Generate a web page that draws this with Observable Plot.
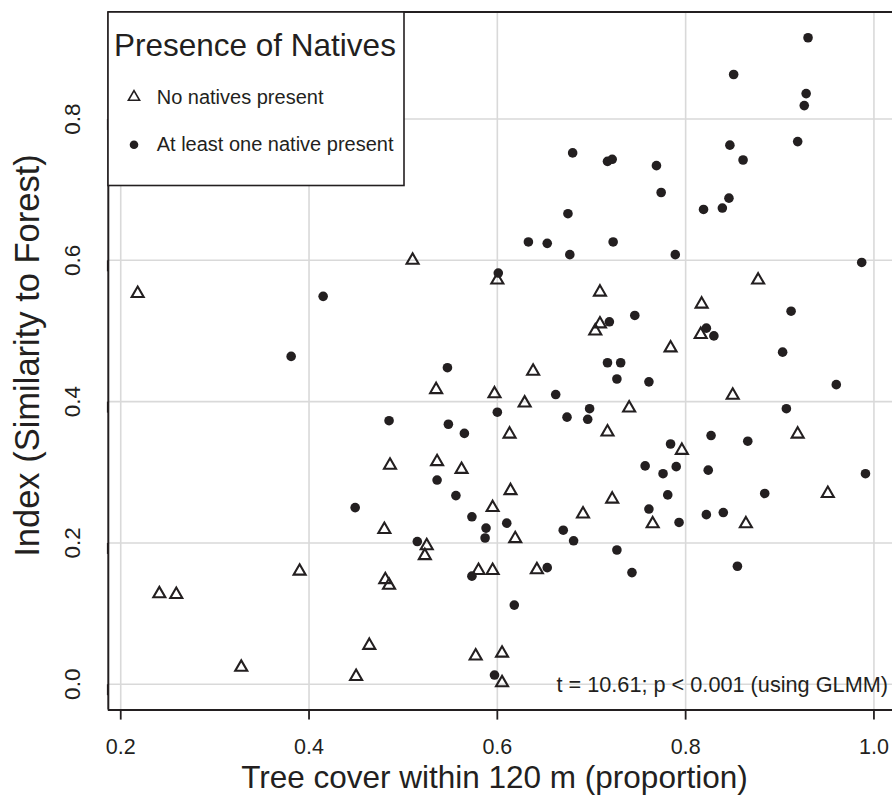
<!DOCTYPE html>
<html>
<head>
<meta charset="utf-8">
<script src="https://cdn.jsdelivr.net/npm/d3@7"></script>
<script src="https://cdn.jsdelivr.net/npm/@observablehq/plot@0.6"></script>
<style>
  html, body { margin: 0; padding: 0; background: #fff; }
  #wrap { position: relative; width: 892px; height: 807px; overflow: hidden; font-family: "Liberation Sans", Arial, Helvetica, sans-serif; }
  #legend { position: absolute; left: 107px; top: 10.5px; }
</style>
</head>
<body>
<div id="wrap"></div>
<script>
// ---- data ----
const xTicks = [0.2, 0.4, 0.6, 0.8, 1.0];
const yTicks = [0.0, 0.2, 0.4, 0.6, 0.8];

// No natives present (open triangles)
const noneX = [0.218, 0.510, 0.600, 0.709, 0.817, 0.877, 0.709, 0.704, 0.816, 0.784,
               0.535, 0.597, 0.638, 0.629, 0.740, 0.850, 0.613, 0.717, 0.796, 0.919,
               0.486, 0.536, 0.562, 0.614, 0.595, 0.722, 0.951, 0.691, 0.765, 0.864,
               0.480, 0.619, 0.525, 0.523, 0.390, 0.580, 0.595, 0.642, 0.481, 0.485,
               0.241, 0.259, 0.464, 0.328, 0.450, 0.577, 0.605, 0.605];
const noneY = [0.553, 0.600, 0.572, 0.555, 0.538, 0.572, 0.510, 0.500, 0.495, 0.476,
               0.417, 0.411, 0.443, 0.398, 0.391, 0.409, 0.354, 0.357, 0.331, 0.354,
               0.310, 0.315, 0.304, 0.274, 0.250, 0.262, 0.270, 0.241, 0.227, 0.227,
               0.219, 0.206, 0.196, 0.182, 0.160, 0.161, 0.161, 0.162, 0.148, 0.140,
               0.128, 0.127, 0.055, 0.024, 0.011, 0.040, 0.044, 0.002];

// At least one native present (filled dots)
const nativeX = [0.415, 0.601, 0.381, 0.930, 0.851, 0.928, 0.926, 0.680, 0.717, 0.722,
                 0.769, 0.847, 0.861, 0.919, 0.774, 0.675, 0.819, 0.839, 0.846, 0.633,
                 0.653, 0.677, 0.723, 0.789, 0.987, 0.912, 0.746, 0.719, 0.822, 0.830,
                 0.903, 0.547, 0.600, 0.485, 0.548, 0.565, 0.536, 0.556, 0.449, 0.573,
                 0.588, 0.587, 0.515, 0.573, 0.597, 0.717, 0.731, 0.727, 0.761, 0.662,
                 0.960, 0.674, 0.698, 0.696, 0.907, 0.784, 0.827, 0.866, 0.757, 0.776,
                 0.790, 0.824, 0.991, 0.610, 0.781, 0.884, 0.761, 0.793, 0.822, 0.840,
                 0.670, 0.681, 0.727, 0.653, 0.743, 0.855, 0.618];
const nativeY = [0.549, 0.582, 0.464, 0.915, 0.863, 0.836, 0.819, 0.752, 0.740, 0.743,
                 0.734, 0.763, 0.742, 0.768, 0.696, 0.666, 0.672, 0.674, 0.688, 0.626,
                 0.624, 0.608, 0.626, 0.608, 0.597, 0.528, 0.522, 0.513, 0.504, 0.493,
                 0.470, 0.448, 0.385, 0.373, 0.368, 0.355, 0.289, 0.267, 0.250, 0.237,
                 0.221, 0.207, 0.202, 0.153, 0.013, 0.455, 0.455, 0.432, 0.428, 0.410,
                 0.424, 0.378, 0.390, 0.375, 0.390, 0.340, 0.352, 0.344, 0.309, 0.298,
                 0.308, 0.303, 0.298, 0.228, 0.268, 0.270, 0.248, 0.229, 0.240, 0.243,
                 0.218, 0.203, 0.190, 0.165, 0.158, 0.167, 0.112];

const legendTitle = "Presence of Natives";
const legendLabels = ["No natives present", "At least one native present"];
const xTitle = "Tree cover within 120 m (proportion)";
const yTitle = "Index (Similarity to Forest)";
const note = "t = 10.61; p < 0.001 (using GLMM)";

// ---- build ----
const ink = "#231f20";
const noneData = noneX.map((x, i) => ({x, y: noneY[i]}));
const nativeData = nativeX.map((x, i) => ({x, y: nativeY[i]}));

// R-style pch 2 triangle (centroid-centred); r = half-width
const rTriangle = {
  draw(ctx, size) {
    const r = Math.sqrt(size / Math.PI);
    ctx.moveTo(0, -1.1547 * r);
    ctx.lineTo(r, 0.5774 * r);
    ctx.lineTo(-r, 0.5774 * r);
    ctx.closePath();
  }
};

const xDom = [0.1868, 1.0212];
const yDom = [-0.0366, 0.9516];

const chart = Plot.plot({
  width: 892,
  height: 807,
  marginLeft: 107.8,
  marginRight: 0,
  marginTop: 11.4,
  marginBottom: 97.4,
  x: {domain: xDom, range: [107.8, 893.4]},
  y: {domain: yDom},
  style: {fontFamily: "'Liberation Sans', Arial, Helvetica, sans-serif", color: ink, background: "white"},
  marks: [
    Plot.gridX(xTicks, {stroke: "#d9d9d9", strokeOpacity: 1, strokeWidth: 1.6}),
    Plot.gridY(yTicks, {stroke: "#d9d9d9", strokeOpacity: 1, strokeWidth: 1.6}),
    Plot.axisX(xTicks, {tickSize: 10, tickPadding: 19, fontSize: 21.5, tickFormat: d3.format(".1f"), label: null, stroke: ink, strokeWidth: 1.8, fill: ink}),
    Plot.axisY(yTicks, {tickSize: 11, tickPadding: 25, fontSize: 22.5, tickFormat: d3.format(".1f"), label: null, stroke: ink, strokeWidth: 1.8, fill: ink, rotate: -90, textAnchor: "middle"}),
    Plot.dot(noneData, {x: "x", y: "y", symbol: rTriangle, r: 6, stroke: ink, strokeWidth: 2.1, fill: "none"}),
    Plot.dot(nativeData, {x: "x", y: "y", r: 4.8, fill: ink, stroke: "none"}),
    Plot.ruleX([xDom[0]], {stroke: ink, strokeWidth: 2}),
    Plot.ruleY([yDom[0], yDom[1]], {stroke: ink, strokeWidth: 2}),
    Plot.text([note], {frameAnchor: "bottom-right", textAnchor: "end", dx: -4.5, dy: -18.5, fontSize: 21.7, fill: ink}),
    Plot.text([xTitle], {frameAnchor: "bottom", textAnchor: "middle", dx: -6, dy: 77.5, fontSize: 31.5, fill: ink}),
    Plot.text([yTitle], {frameAnchor: "left", textAnchor: "middle", rotate: -90, dx: -80.5, dy: -5.5, fontSize: 34.5, fill: ink})
  ]
});

const wrap = document.getElementById("wrap");
wrap.appendChild(chart);

// legend (overlay, inside the plot region at top-left, like R's legend("topleft"))
const ns = "http://www.w3.org/2000/svg";
const lg = document.createElementNS(ns, "svg");
lg.setAttribute("id", "legend");
lg.setAttribute("width", 298);
lg.setAttribute("height", 176);
lg.setAttribute("font-family", "'Liberation Sans', Arial, Helvetica, sans-serif");
function el(tag, attrs, text) {
  const e = document.createElementNS(ns, tag);
  for (const k in attrs) e.setAttribute(k, attrs[k]);
  if (text != null) e.textContent = text;
  lg.appendChild(e);
  return e;
}
el("rect", {x: 1, y: 1, width: 296, height: 173.5, fill: "white", stroke: ink, "stroke-width": 1.6});
el("text", {x: 7, y: 44.5, "font-size": 31.5, fill: ink}, legendTitle);
const tr = 5.6;
el("path", {d: `M${27},${86 - 1.1547 * tr}L${27 + tr},${86 + 0.5774 * tr}L${27 - tr},${86 + 0.5774 * tr}Z`, fill: "none", stroke: ink, "stroke-width": 1.6});
el("text", {x: 49.7, y: 92.8, "font-size": 20, fill: ink}, legendLabels[0]);
el("circle", {cx: 27, cy: 133.8, r: 4.3, fill: ink});
el("text", {x: 49.7, y: 140.2, "font-size": 20, fill: ink}, legendLabels[1]);
wrap.appendChild(lg);
</script>
</body>
</html>
